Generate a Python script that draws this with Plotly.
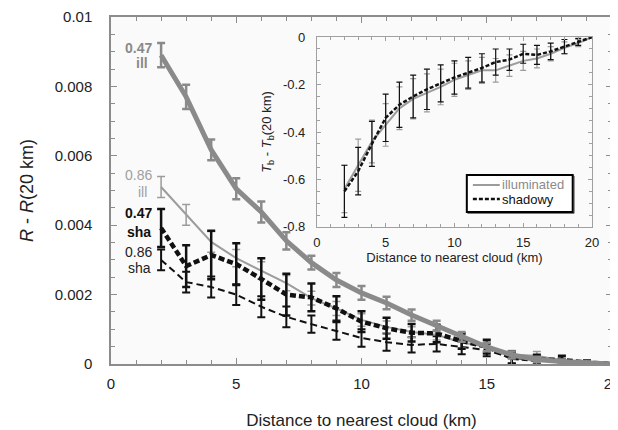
import plotly.graph_objects as go

# ---------------- data ----------------
dist = list(range(2, 21))

ill047 = [8.9, 7.7, 6.17, 5.05, 4.38, 3.55, 2.92, 2.42, 2.05, 1.76, 1.41, 1.1, 0.78, 0.49, 0.26, 0.13, 0.07, 0.03, 0.0]
ill047_err = [0.35, 0.35, 0.3, 0.3, 0.3, 0.25, 0.2, 0.2, 0.2, 0.18, 0.16, 0.15, 0.14, 0.12, 0.1, 0.08, 0.06, 0.04, 0.02]

ill086 = [5.1, 4.3, 3.52, 3.05, 2.7, 2.33, 1.9, 1.6, 1.27, 1.07, 0.92, 0.84, 0.62, 0.5, 0.27, 0.24, 0.1, 0.05, 0.0]
ill086_err = [0.3, 0.3, 0.3, 0.25, 0.25, 0.22, 0.2, 0.2, 0.18, 0.17, 0.15, 0.15, 0.15, 0.14, 0.12, 0.12, 0.08, 0.05, 0.02]

sha047 = [3.92, 2.82, 3.14, 2.88, 2.45, 2.0, 1.92, 1.6, 1.22, 1.03, 0.9, 0.88, 0.66, 0.5, 0.18, 0.12, 0.12, 0.04, 0.0]
sha047_err = [0.55, 0.6, 0.7, 0.6, 0.6, 0.6, 0.4, 0.35, 0.3, 0.3, 0.25, 0.25, 0.22, 0.2, 0.18, 0.15, 0.12, 0.06, 0.02]

sha086 = [3.0, 2.36, 2.22, 2.0, 1.65, 1.36, 1.15, 0.95, 0.75, 0.63, 0.55, 0.58, 0.48, 0.4, 0.17, 0.12, 0.08, 0.03, 0.0]
sha086_err = [0.3, 0.3, 0.3, 0.3, 0.3, 0.3, 0.25, 0.25, 0.25, 0.25, 0.22, 0.22, 0.2, 0.18, 0.15, 0.12, 0.08, 0.05, 0.02]

inset_ill = [-0.64, -0.54, -0.44, -0.37, -0.3, -0.26, -0.235, -0.21, -0.18, -0.16, -0.14, -0.14, -0.12, -0.1, -0.09, -0.07, -0.045, -0.025, 0.0]
inset_ill_err = [0.1, 0.11, 0.09, 0.09, 0.09, 0.085, 0.08, 0.075, 0.07, 0.06, 0.055, 0.05, 0.045, 0.04, 0.04, 0.03, 0.025, 0.015, 0.0]
inset_sha = [-0.65, -0.565, -0.45, -0.34, -0.285, -0.25, -0.22, -0.195, -0.17, -0.15, -0.13, -0.105, -0.095, -0.07, -0.075, -0.06, -0.04, -0.02, 0.0]
inset_sha_err = [0.11, 0.1, 0.095, 0.1, 0.095, 0.09, 0.085, 0.078, 0.07, 0.065, 0.06, 0.055, 0.045, 0.04, 0.04, 0.035, 0.03, 0.015, 0.0]

main_yticks = [0, 0.002, 0.004, 0.006, 0.008, 0.01]
main_yticktext = ["0", "0.002", "0.004", "0.006", "0.008", "0.01"]
main_xticks = [0, 5, 10, 15, 20]
inset_yticks = [0, -0.2, -0.4, -0.6, -0.8]
inset_yticktext = ["0", "-0.2", "-0.4", "-0.6", "-0.8"]
legend_names = ["illuminated", "shadowy"]

FONT = "Liberation Sans, Arial, Helvetica, sans-serif"
GRAY_THICK = "#8a8a8a"
GRAY_THIN = "#9c9c9c"
BLACK = "#111111"

scale = 1e-3
def sc(v):
    return [a * scale for a in v]

fig = go.Figure()

def add_main(y, err, color, width, dash, capw, thick):
    fig.add_trace(go.Scatter(
        x=dist, y=sc(y), mode="lines", showlegend=False,
        line=dict(color=color, width=width, dash=dash),
        error_y=dict(type="data", array=sc(err), color=color, thickness=thick, width=capw),
        xaxis="x", yaxis="y"))

add_main(sha086, sha086_err, BLACK, 2, "7px,4px", 4, 2)
add_main(ill086, ill086_err, GRAY_THIN, 2, "solid", 4, 1.5)
add_main(sha047, sha047_err, BLACK, 4.5, "6px,3px", 4, 2.5)
add_main(ill047, ill047_err, GRAY_THICK, 5, "solid", 4, 2.5)

# inset
fig.add_trace(go.Scatter(
    x=dist, y=inset_ill, mode="lines", showlegend=False,
    line=dict(color=GRAY_THIN, width=2),
    error_y=dict(type="data", array=inset_ill_err, color=GRAY_THIN, thickness=1.2, width=3),
    xaxis="x2", yaxis="y2"))
fig.add_trace(go.Scatter(
    x=dist, y=inset_sha, mode="lines", showlegend=False,
    line=dict(color=BLACK, width=2.5, dash="4px,2px"),
    error_y=dict(type="data", array=inset_sha_err, color=BLACK, thickness=1.2, width=3),
    xaxis="x2", yaxis="y2"))

# manual legend inside the inset
fig.add_shape(type="rect", xref="x2 domain", yref="y2 domain", x0=0.548, x1=0.935, y0=0.072, y1=0.268,
              line=dict(color="#555", width=1), fillcolor="rgba(0,0,0,0)")
fig.add_shape(type="rect", xref="x2 domain", yref="y2 domain", x0=0.545, x1=0.93, y0=0.079, y1=0.274,
              line=dict(color="black", width=2), fillcolor="white")
fig.add_shape(type="line", xref="x2 domain", yref="y2 domain", x0=0.567, x1=0.665, y0=0.221, y1=0.221,
              line=dict(color=GRAY_THIN, width=2))
fig.add_shape(type="line", xref="x2 domain", yref="y2 domain", x0=0.567, x1=0.665, y0=0.147, y1=0.147,
              line=dict(color=BLACK, width=2.5, dash="4px,2px"))
fig.add_annotation(xref="x2 domain", yref="y2 domain", x=0.665, y=0.221, text=legend_names[0],
                   showarrow=False, xanchor="left", yanchor="middle",
                   font=dict(family=FONT, size=13, color="#8a8a8a"))
fig.add_annotation(xref="x2 domain", yref="y2 domain", x=0.665, y=0.147, text=legend_names[1],
                   showarrow=False, xanchor="left", yanchor="middle",
                   font=dict(family=FONT, size=13, color=BLACK))

# labels attached to the first point of each series
def lab(text, yval, xshift, yshift, color, bold, anchor):
    t = f"<b>{text}</b>" if bold else text
    fig.add_annotation(x=dist[0], y=yval * scale, xref="x", yref="y", text=t, showarrow=False,
                       xanchor=anchor, yanchor="middle", xshift=xshift, yshift=yshift,
                       font=dict(family=FONT, size=14, color=color))

lab("0.47", ill047[0], -7, 7, "#8a8a8a", True, "right")
lab("ill", ill047[0], -19, -8, "#8a8a8a", True, "center")
lab("0.86", ill086[0], -7, 12, "#a0a0a0", False, "right")
lab("ill", ill086[0], -19, -5, "#a0a0a0", False, "center")
lab("0.47", sha047[0], -7, 15, BLACK, True, "right")
lab("sha", sha047[0], -22, -4, BLACK, True, "center")
lab("0.86", sha086[0], -7, 8, "#222222", False, "right")
lab("sha", sha086[0], -22, -8, "#222222", False, "center")

axis_common = dict(showline=True, mirror="ticks", ticks="inside", showgrid=False, zeroline=False,
                   tickfont=dict(family=FONT, color="#222"), ticklabeloverflow="allow")

fig.update_layout(
    width=610, height=422,
    margin=dict(l=103, r=6, t=9, b=66),
    paper_bgcolor="white", plot_bgcolor="#fafafa",
    font=dict(family=FONT, color="#222"),
    showlegend=False,
    xaxis=dict(**axis_common, range=[0, 20], tickvals=main_xticks, linecolor="#8c8c8c", linewidth=1.5,
               tickcolor="#8c8c8c", ticklen=6, tickwidth=1.2, tickfont_size=15, ticklabelstandoff=5,
               minor=dict(dtick=1, ticks="inside", ticklen=4, tickcolor="#8c8c8c", tickwidth=1),
               title=dict(text="Distance to nearest cloud (km)", font=dict(size=17, family=FONT), standoff=24),
               automargin=False),
    yaxis=dict(**axis_common, range=[0, 0.01], tickvals=main_yticks, ticktext=main_yticktext,
               linecolor="#8c8c8c", linewidth=1.5, tickcolor="#8c8c8c", ticklen=6, tickwidth=1.2,
               tickfont_size=15, ticklabelstandoff=14,
               minor=dict(dtick=0.0005, ticks="inside", ticklen=4, tickcolor="#8c8c8c", tickwidth=1),
               title=dict(text="<i>R</i> - <i>R</i>(20 km)", font=dict(size=18, family=FONT), standoff=16),
               automargin=False),
    xaxis2=dict(**axis_common, domain=[0.411, 0.960], anchor="y2", range=[0, 20], tickvals=main_xticks,
                linecolor="#a0a0a0", linewidth=1, tickcolor="#a0a0a0", ticklen=4, tickfont_size=13,
                ticklabelstandoff=3,
                minor=dict(dtick=1, ticks="inside", ticklen=3, tickcolor="#a0a0a0"),
                title=dict(text="Distance to nearest cloud (km)", font=dict(size=13, family=FONT), standoff=2),
                automargin=False),
    yaxis2=dict(**axis_common, domain=[0.395, 0.942], anchor="x2", range=[-0.8, 0], tickvals=inset_yticks,
                ticktext=inset_yticktext, linecolor="#a0a0a0", linewidth=1, tickcolor="#a0a0a0", ticklen=4,
                tickfont_size=13, ticklabelstandoff=8,
                minor=dict(dtick=0.05, ticks="inside", ticklen=3, tickcolor="#a0a0a0"),
                title=dict(text="<i>T</i><sub>b</sub> - <i>T</i><sub>b</sub>(20 km)", font=dict(size=13, family=FONT), standoff=8),
                automargin=False),
)

fig.write_html("out.html")
